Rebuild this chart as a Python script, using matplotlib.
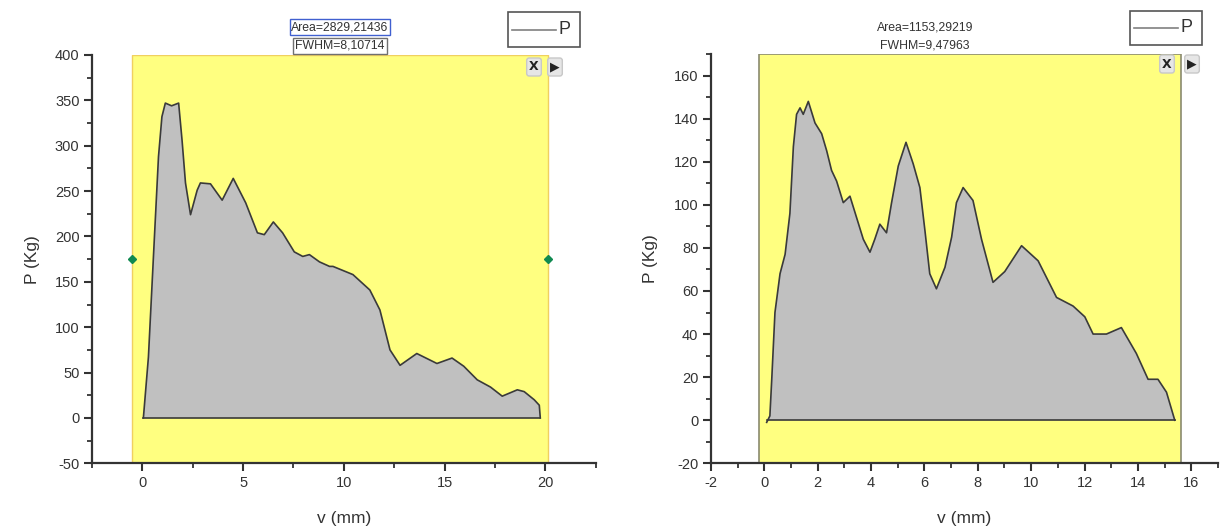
import matplotlib
matplotlib.use("Agg")
import matplotlib.pyplot as plt
from matplotlib.ticker import MultipleLocator
import numpy as np

plt.rcParams['font.family'] = ['Liberation Sans', 'DejaVu Sans']
plt.rcParams['axes.unicode_minus'] = False

# ---- data: left panel ----
v_left = [0.05, 0.30, 0.55, 0.80, 0.97, 1.14, 1.45, 1.80, 1.97, 2.14, 2.39, 2.72, 2.88,
          3.38, 3.96, 4.51, 5.13, 5.71, 6.05, 6.50, 6.96, 7.54, 7.96, 8.29, 8.79, 9.29,
          9.46, 10.45, 11.29, 11.79, 12.29, 12.79, 13.62, 14.62, 15.37, 15.95, 16.62,
          17.28, 17.86, 18.61, 18.95, 19.45, 19.70, 19.75]
p_left = [0, 67, 178, 288, 332, 347, 344, 347, 306, 259, 224, 251, 259,
          258, 240, 264, 237, 204, 202, 216, 204, 183, 178, 180, 172, 167,
          167, 158, 141, 119, 75, 58, 71, 60, 66, 57, 42,
          34, 24, 31, 29, 20, 14, 0]

# ---- data: right panel ----
v_right = [0.09, 0.21, 0.28, 0.40, 0.59, 0.78, 0.96, 1.09, 1.21, 1.34, 1.46, 1.65, 1.90,
           2.15, 2.34, 2.52, 2.71, 2.96, 3.21, 3.46, 3.71, 3.96, 4.14, 4.33, 4.58, 4.77,
           5.02, 5.31, 5.58, 5.83, 6.02, 6.20, 6.45, 6.77, 7.02, 7.20, 7.45, 7.82, 8.14,
           8.57, 9.01, 9.64, 10.26, 10.95, 11.57, 12.01, 12.32, 12.82, 13.38, 13.94,
           14.38, 14.75, 15.07, 15.38]
p_right = [-1, 2, 19, 50, 68, 77, 96, 127, 142, 145, 142, 148, 138,
           133, 125, 116, 111, 101, 104, 94, 84, 78, 84, 91, 87, 101,
           118, 129, 119, 108, 88, 68, 61, 71, 85, 101, 108, 102, 84,
           64, 69, 81, 74, 57, 53, 48, 40, 40, 43, 31,
           19, 19, 13, 0]

area_texts = ["Area=2829,21436", "Area=1153,29219"]
fwhm_texts = ["FWHM=8,10714", "FWHM=9,47963"]
legend_label = "P"
xlabel = "v (mm)"
ylabel = "P (Kg)"

W, H = 1221, 532
fig = plt.figure(figsize=(W / 100, H / 100), dpi=100)
fig.patch.set_facecolor('white')

axL = fig.add_axes([92 / W, 1 - 463.3 / H, (595.7 - 92) / W, (463.3 - 55) / H])
axR = fig.add_axes([710.9 / W, 1 - 463.3 / H, (1218 - 710.9) / W, (463.3 - 54) / H])

spine_c = '#333333'
yellow = '#ffff80'
fill_c = '#c0c0c0'
line_c = '#3a3a3a'


def style(ax, xl, yl, xmaj, xmin, ymaj, ymin):
    ax.set_xlim(*xl)
    ax.set_ylim(*yl)
    ax.set_facecolor('none')
    for s in ['top', 'right']:
        ax.spines[s].set_visible(False)
    for s in ['left', 'bottom']:
        ax.spines[s].set_color(spine_c)
        ax.spines[s].set_linewidth(1.6)
    ax.xaxis.set_major_locator(MultipleLocator(xmaj))
    ax.xaxis.set_minor_locator(MultipleLocator(xmin))
    ax.yaxis.set_major_locator(MultipleLocator(ymaj))
    ax.yaxis.set_minor_locator(MultipleLocator(ymin))
    ax.tick_params(which='major', direction='out', length=6, width=1.5, color=spine_c,
                   labelsize=10.5, labelcolor='#333333', pad=3)
    ax.tick_params(which='minor', direction='out', length=3.5, width=1.3, color=spine_c)
    ax.set_xlabel(xlabel, fontsize=12.5, color='#333333', labelpad=15)
    ax.set_ylabel(ylabel, fontsize=12.5, color='#333333', labelpad=11)


style(axL, (-2.5, 22.5), (-50, 400), 5, 2.5, 50, 25)
style(axR, (-2, 17), (-20, 170), 2, 1, 20, 10)
axL.set_xticks([0, 5, 10, 15, 20])
axR.set_xticks(list(range(-2, 17, 2)))

# yellow selection regions
axL.add_patch(plt.Rectangle((-0.53, -50), 20.68, 450, facecolor=yellow,
                            edgecolor='#f0d060', lw=1.0, zorder=0))
axR.add_patch(plt.Rectangle((-0.19, -20), 15.82, 190, facecolor=yellow,
                            edgecolor='#8a8a70', lw=1.2, zorder=0))

for ax, v, p in [(axL, v_left, p_left), (axR, v_right, p_right)]:
    xs = np.array(v)
    ys = np.array(p)
    ax.fill_between(xs, ys, 0, facecolor=fill_c, edgecolor='none', zorder=1)
    ax.plot(xs, ys, color=line_c, lw=1.2, zorder=2)
    ax.plot([xs[0], xs[-1]], [0, 0], color=line_c, lw=1.2, zorder=2)

# green selection handles (left panel)
axL.plot([-0.53, 20.15], [175, 175], linestyle='none', marker='D', markersize=4.5,
         color='#108a50', zorder=3, clip_on=False)

# annotations
fig.text(340 / W, 1 - 27 / H, area_texts[0], ha='center', va='center', fontsize=8.8,
         color='#333333', bbox=dict(boxstyle='square,pad=0.15', fc='white', ec='#4060d0', lw=1))
fig.text(340 / W, 1 - 46 / H, fwhm_texts[0], ha='center', va='center', fontsize=8.8,
         color='#333333', bbox=dict(boxstyle='square,pad=0.15', fc='white', ec='#707070', lw=1))
fig.text(925 / W, 1 - 28 / H, area_texts[1], ha='center', va='center', fontsize=8.8,
         color='#333333')
fig.text(925 / W, 1 - 45 / H, fwhm_texts[1], ha='center', va='center', fontsize=8.8,
         color='#333333')

# legend boxes
for (x0, x1, y0, y1) in [(508, 580, 12, 47), (1130, 1202, 11, 45)]:
    fig.patches.append(plt.Rectangle((x0 / W, 1 - y1 / H), (x1 - x0) / W, (y1 - y0) / H,
                                     transform=fig.transFigure, fc='white',
                                     ec='#555555', lw=1.2))
    ym = (y0 + y1) / 2
    fig.lines.append(plt.Line2D([(x0 + 4) / W, (x0 + 48) / W], [1 - ym / H, 1 - ym / H],
                                transform=fig.transFigure, color='#808080', lw=1.2))
    fig.text((x0 + 57) / W, 1 - ym / H, legend_label, ha='center', va='center',
             fontsize=13, color='#333333')

# small X and play buttons
for (bx, by, t) in [(534, 67, 'X'), (555, 67, '▶'), (1167, 64, 'X'), (1192, 64, '▶')]:
    fig.text(bx / W, 1 - by / H, t, family=['DejaVu Sans'], ha='center', va='center',
             fontsize=9, color='#222222', fontweight='bold',
             bbox=dict(boxstyle='round,pad=0.2', fc='#e6e6e6', ec='#c8c8c8', lw=1))

fig.savefig('out.png', dpi=100, facecolor='white')
